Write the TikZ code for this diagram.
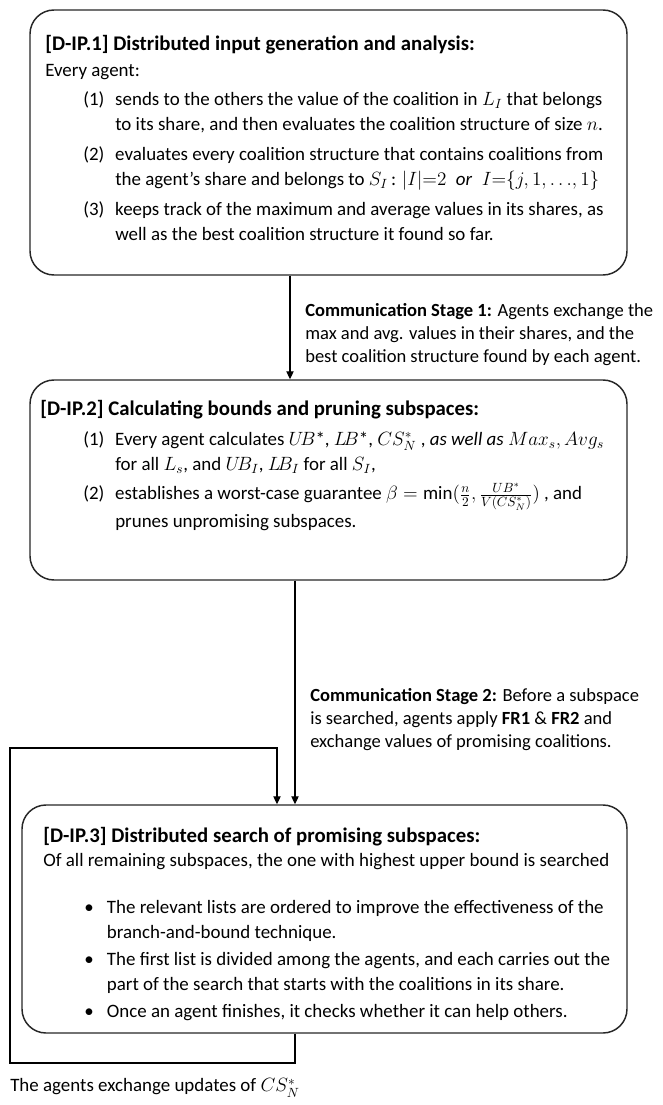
\documentclass[tikz,border=0pt]{standalone}
\usepackage{amsmath}
\usepackage{fontspec}
\setmainfont{Carlito}
\usetikzlibrary{arrows.meta,positioning,fit}

\begin{document}
\begin{tikzpicture}[x=0.75pt, y=-0.75pt, >={Triangle[length=6pt,width=5.5pt]},
  font=\fontsize{14.2}{18.75}\selectfont]
  \tikzset{stage/.style={draw=black!85, line width=1.1pt, rounded corners=18pt, inner sep=0pt},
    txt/.style={anchor=north west, inner sep=0pt, align=left},
    ttl/.style={anchor=west, inner sep=0pt, font=\fontsize{15.6}{18}\selectfont\bfseries},
    note/.style={anchor=north west, inner sep=0pt, align=left, font=\fontsize{13.9}{17.25}\selectfont},
    link/.style={->, line width=0.8pt}}
  \useasboundingbox (0,0) rectangle (662,1105);

  % stages
  \node[stage, fit={(30,10) (627,275)}] (box1) {};
  \node[stage, fit={(30,380) (627,580)}] (box2) {};
  \node[stage, fit={(22,805) (627,1033)}] (box3) {};

  % D-IP.1
  \node[ttl] (t1) at (45,45) {[D-IP.1] Distributed input generation and analysis:};
  \node[anchor=west, inner sep=0pt] (ev) at (45,72) {Every agent:};
  \node[txt] (l1) at (83,88) {\begin{tabular}{@{}p{24pt}@{}l@{}}
    (1) & sends to the others the value of the coalition in $L_I$ that belongs\\
        & to its share, and then evaluates the coalition structure of size $n$.\\[3.75pt]
    (2) & evaluates every coalition structure that contains coalitions from\\
        & the agent's share and belongs to $S_I$\,: $|I|{=}2$\enspace\textit{or}\enspace$I{=}\{j,1,{\ldots},1\}$\\[3.75pt]
    (3) & keeps track of the maximum and average values in its shares, as\\
        & well as the best coalition structure it found so far.
  \end{tabular}};

  % D-IP.2
  \node[ttl] (t2) at (40,410) {[D-IP.2] Calculating bounds and pruning subspaces:};
  \node[txt] (l2) at (83,428) {\begin{tabular}{@{}p{24pt}@{}l@{}}
    (1) & Every agent calculates $U\!B$*, $L\!B$*, $CS^*_N$ , \textit{as well as} $Max_s, Avg_s$\\
        & for all $L_s$, and $U\!B_I$, $L\!B_I$ for all $S_I$,\\[3pt]
    (2) & establishes a worst-case guarantee $\beta=\min(\frac{n}{2},\frac{UB^*}{V(CS^*_N)})$ , and\\
        & prunes unpromising subspaces.
  \end{tabular}};

  % D-IP.3
  \node[ttl] (t3) at (43,837) {[D-IP.3] Distributed search of promising subspaces:};
  \node[anchor=west, inner sep=0pt] (of) at (43,862) {Of all remaining subspaces, the one with highest upper bound is searched};
  \node[txt] (l3) at (84,896) {\begin{tabular}{@{}p{17pt}@{}l@{}}
    \textbullet & The relevant lists are ordered to improve the effectiveness of the\\
        & branch-and-bound technique.\\[1.5pt]
    \textbullet & The first list is divided among the agents, and each carries out the\\
        & part of the search that starts with the coalitions in its share.\\[1.5pt]
    \textbullet & Once an agent finishes, it checks whether it can help others.
  \end{tabular}};

  % communication stages
  \node[note] (cs1) at (305,303) {\textbf{Communication Stage 1:} Agents exchange the\\
    max and avg. values in their shares, and the\\
    best coalition structure found by each agent.};
  \node[note] (cs2) at (310,688) {\textbf{Communication Stage 2:} Before a subspace\\
    is searched, agents apply \textbf{FR1} \& \textbf{FR2} and\\
    exchange values of promising coalitions.};
  \node[anchor=west, inner sep=0pt] (upd) at (10,1088) {The agents exchange updates of $CS^*_N$};

  % connectors
  \coordinate (a1) at (290,0);
  \coordinate (a2) at (295,0);
  \coordinate (a3) at (277,0);
  \coordinate (lb) at (10,1063);
  \coordinate (lt) at (10,748);
  \draw[link] (box1.south -| a1) -- (box2.north -| a1);
  \draw[link] (box2.south -| a2) -- (box3.north -| a2);
  \draw[link] (box3.south -| a2) |- (lb) -- (lt) -| (box3.north -| a3);
\end{tikzpicture}
\end{document}
